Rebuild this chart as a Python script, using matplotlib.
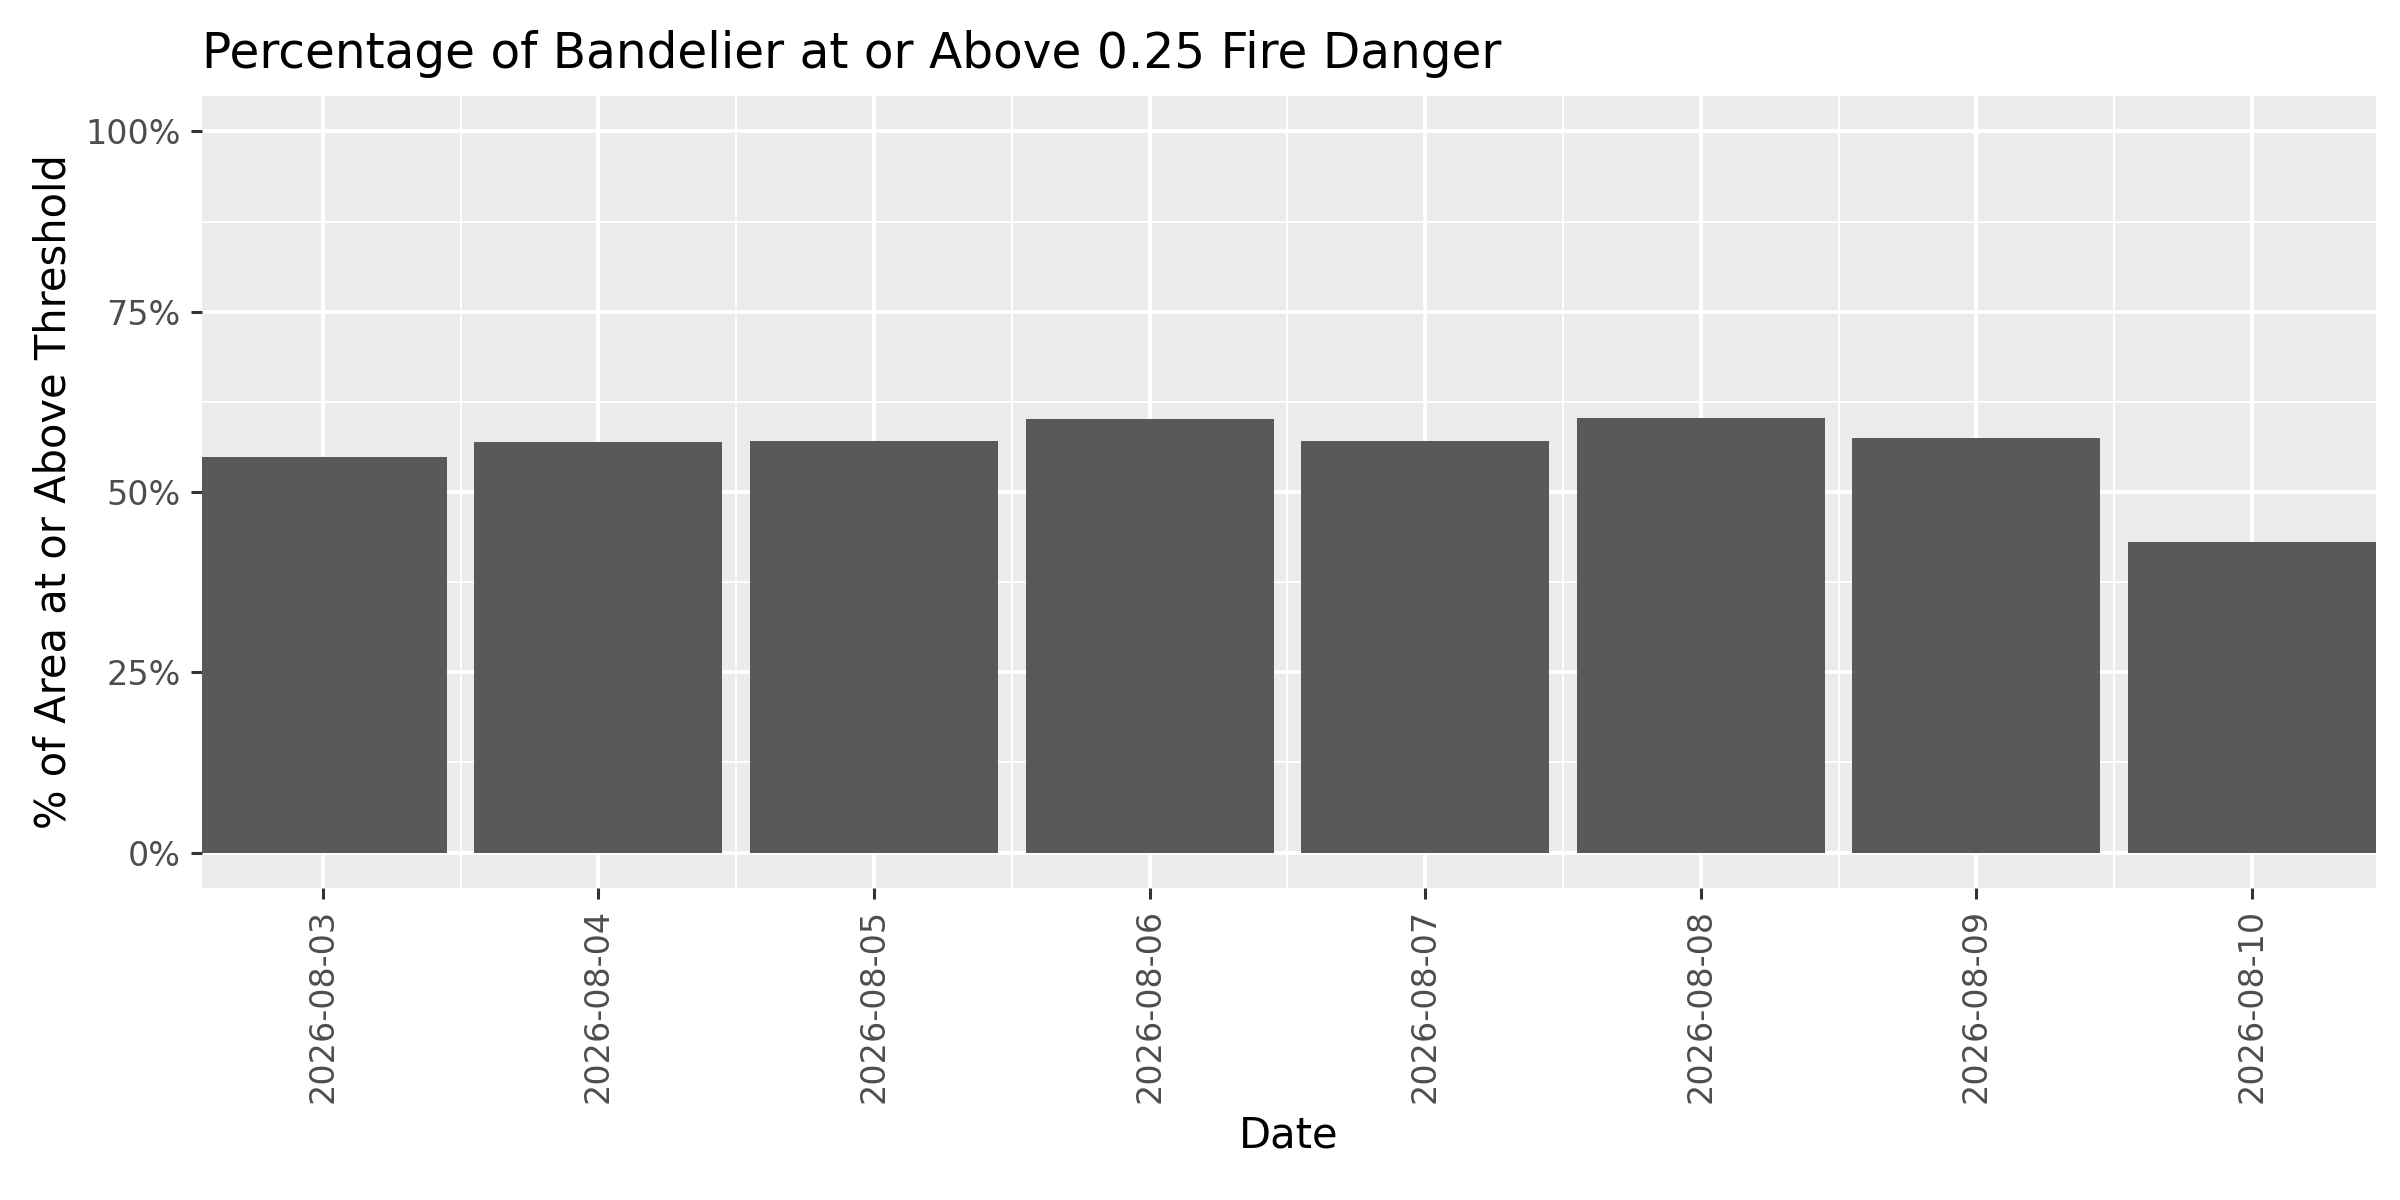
import matplotlib
matplotlib.use("Agg")
import matplotlib.pyplot as plt
import numpy as np

dates = ["2026-08-03","2026-08-04","2026-08-05","2026-08-06","2026-08-07","2026-08-08","2026-08-09","2026-08-10"]
values = [54.8, 56.9, 57.1, 60.1, 57.1, 60.3, 57.5, 43.1]
yticks = [0, 25, 50, 75, 100]
ylabels = ["0%", "25%", "50%", "75%", "100%"]

fig = plt.figure(figsize=(12, 6), dpi=200)
ax = fig.add_axes([0.084, 0.26, 0.906, 0.66])
ax.set_facecolor("#EBEBEB")
x = np.arange(len(dates))
ax.set_axisbelow(True)
for v in [12.5, 37.5, 62.5, 87.5]:
    ax.axhline(v, color="white", lw=0.7, zorder=0)
for v in x[:-1] + 0.5:
    ax.axvline(v, color="white", lw=0.7, zorder=0)
for v in yticks:
    ax.axhline(v, color="white", lw=1.4, zorder=0)
for v in x:
    ax.axvline(v, color="white", lw=1.4, zorder=0)
ax.bar(x, values, width=0.9, color="#595959", zorder=2)
ax.set_xlim(-0.44, 7.45)
ax.set_ylim(-4.9, 104.9)
ax.set_yticks(yticks)
ax.set_yticklabels(ylabels)
ax.set_xticks(x)
ax.set_xticklabels(dates, rotation=90)
for s in ax.spines.values():
    s.set_visible(False)
ax.tick_params(axis="both", colors="#333333", labelsize=12, length=4, width=1.1, labelcolor="#4D4D4D")
ax.set_xlabel("Date", fontsize=15, labelpad=4)
ax.set_ylabel("% of Area at or Above Threshold", fontsize=15)
ax.set_title("Percentage of Bandelier at or Above 0.25 Fire Danger", fontsize=17.5, loc="left", pad=10)
fig.savefig("out.png")
